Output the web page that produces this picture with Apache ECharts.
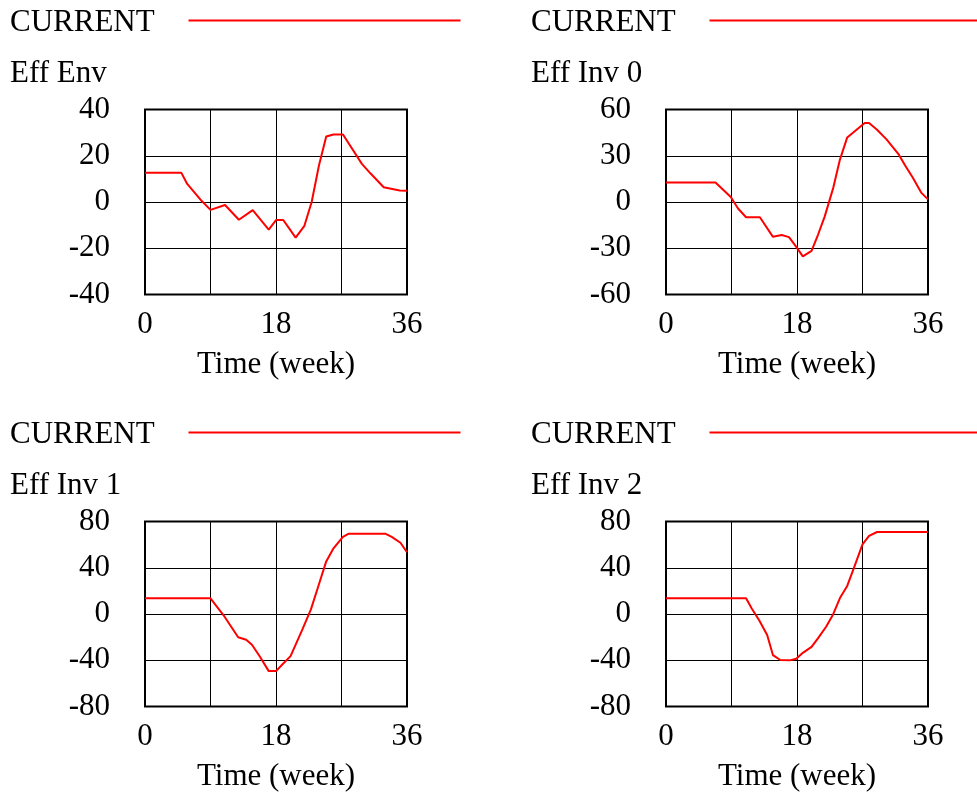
<!DOCTYPE html>
<html>
<head>
<meta charset="utf-8">
<script src="https://cdn.jsdelivr.net/npm/echarts@6/dist/echarts.min.js"></script>
<style>
html,body{margin:0;padding:0;background:#fff;}
#chart{width:977px;height:798px;}
</style>
</head>
<body>
<div id="chart"></div>
<script>
// ---- data ----
const seriesName = 'CURRENT';
const xAxisName = 'Time (week)';
const xTickLabels = [0, 18, 36];
const panelTitles = ['Eff Env', 'Eff Inv 0', 'Eff Inv 1', 'Eff Inv 2'];

const yTicksEnv  = [-40, -20, 0, 20, 40];
const yTicksInv0 = [-60, -30, 0, 30, 60];
const yTicksInv1 = [-80, -40, 0, 40, 80];
const yTicksInv2 = [-80, -40, 0, 40, 80];

const weeksEnv  = [0, 5, 5.8, 7.8, 9, 11, 12.9, 14.8, 17, 18, 19, 20.7, 21.9, 22.9, 23.9, 24.9, 25.9, 27.2, 29.8, 31, 32.8, 35, 36];
const valuesEnv = [12.6, 12.6, 7.8, 0.4, -3.4, -1.3, -7.7, -3.5, -11.9, -7.8, -7.8, -15.4, -10.3, 0, 15.8, 28.3, 29.2, 29.2, 16.5, 12.3, 6.4, 5.0, 4.9];

const weeksInv0  = [0, 6.8, 8.9, 9.9, 11, 12.9, 14.7, 15.9, 16.9, 17.8, 18.8, 20, 20.9, 21.8, 23, 23.9, 24.9, 27.3, 27.9, 29, 30.3, 32, 32.9, 33.9, 35.1, 36];
const valuesInv0 = [12.7, 12.7, 3.2, -4.2, -9.9, -9.9, -22.6, -21.4, -22.8, -28.5, -35.3, -31.7, -21.1, -9.5, 9.5, 27.5, 41.9, 51.2, 51.2, 46.9, 40.6, 30.7, 23.3, 15.9, 5.9, 1.7];

const weeksInv1  = [0, 9, 10.8, 12.8, 13.9, 14.7, 15.8, 17, 18, 18.9, 20, 21.6, 22.8, 23.9, 24.9, 25.9, 27.2, 28, 33, 33.9, 35.1, 36];
const valuesInv1 = [13.6, 13.6, -1.1, -20.1, -22.3, -26.6, -37, -49.4, -49.4, -43.5, -36.4, -13.8, 4, 25.7, 45.5, 56.8, 66.7, 69.5, 69.5, 66.7, 61.6, 53.4];

const weeksInv2  = [0, 11, 11.8, 12.8, 13.9, 14.7, 15.7, 17, 17.9, 18.8, 20, 20.9, 22, 22.9, 23.9, 24.9, 25.9, 27, 27.9, 29, 36];
const valuesInv2 = [13.6, 13.6, 4.5, -5.4, -18.1, -35.6, -39.8, -40.1, -38.7, -33.6, -28.5, -20.9, -11, -1.1, 13.8, 24.3, 41.2, 60.2, 67.5, 70.9, 70.9];

// ---- layout ----
const FONT = 'Liberation Serif';
const FS = 31;
const panels = [
  {weeks: weeksEnv,  values: valuesEnv,  ticks: yTicksEnv,  left: 145, top: 109.5, tx: 10,  ty: 0},
  {weeks: weeksInv0, values: valuesInv0, ticks: yTicksInv0, left: 666, top: 109.5, tx: 531, ty: 0},
  {weeks: weeksInv1, values: valuesInv1, ticks: yTicksInv1, left: 145, top: 521.5, tx: 10,  ty: 412},
  {weeks: weeksInv2, values: valuesInv2, ticks: yTicksInv2, left: 666, top: 521.5, tx: 531, ty: 412}
];

const option = {
  animation: false,
  backgroundColor: '#fff',
  textStyle: {fontFamily: FONT},
  title: [], grid: [], xAxis: [], yAxis: [], series: [], graphic: []
};

panels.forEach((p, i) => {
  const xMax = xTickLabels[xTickLabels.length - 1];
  option.title.push({
    text: seriesName, left: p.tx, top: p.ty + 7, padding: 0,
    textStyle: {fontFamily: FONT, fontSize: FS, fontWeight: 'normal', color: '#000'}
  });
  option.title.push({
    text: panelTitles[i], left: p.tx, top: p.ty + 58, padding: 0,
    textStyle: {fontFamily: FONT, fontSize: FS, fontWeight: 'normal', color: '#000'}
  });
  option.graphic.push({
    type: 'line', left: p.tx + 176, top: p.ty + 18,
    shape: {x1: 0, y1: 0, x2: 272, y2: 0},
    style: {stroke: '#ff0000', lineWidth: 2}
  });
  option.grid.push({
    left: p.left, top: p.top, width: 262, height: 185,
    show: true, borderColor: '#000', borderWidth: 2, backgroundColor: 'transparent'
  });
  option.xAxis.push({
    type: 'value', gridIndex: i, min: 0, max: xMax, interval: xMax / 4,
    name: xAxisName, nameLocation: 'middle', nameGap: 55,
    nameTextStyle: {fontFamily: FONT, fontSize: FS, color: '#000'},
    axisLine: {show: false},
    axisTick: {show: true, length: 3, lineStyle: {color: '#000'}},
    splitLine: {show: true, lineStyle: {color: '#000', width: 1}},
    axisLabel: {
      fontFamily: FONT, fontSize: FS, color: '#000', margin: 15,
      formatter: v => (xTickLabels.indexOf(v) >= 0 ? String(v) : '')
    }
  });
  const yMin = p.ticks[0], yMax = p.ticks[p.ticks.length - 1];
  option.yAxis.push({
    type: 'value', gridIndex: i, min: yMin, max: yMax, interval: p.ticks[1] - p.ticks[0],
    axisLine: {show: false},
    axisTick: {show: false},
    splitLine: {show: true, lineStyle: {color: '#000', width: 1}},
    axisLabel: {fontFamily: FONT, fontSize: FS, color: '#000', margin: 35, verticalAlign: 'middle', padding: [8, 0, 0, 0]}
  });
  option.series.push({
    name: seriesName, type: 'line', xAxisIndex: i, yAxisIndex: i,
    data: p.weeks.map((w, k) => [w, p.values[k]]),
    showSymbol: false, symbol: 'none',
    lineStyle: {color: '#ff0000', width: 2},
    itemStyle: {color: '#ff0000'}
  });
});

const chart = echarts.init(document.getElementById('chart'));
chart.setOption(option);
</script>
</body>
</html>
